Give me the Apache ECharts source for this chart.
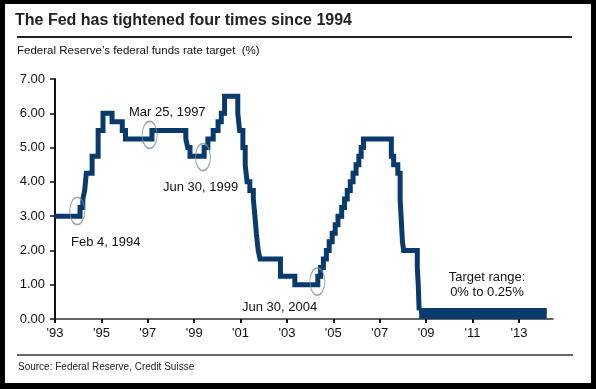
<!DOCTYPE html>
<html>
<head>
<meta charset="utf-8">
<script src="https://cdn.jsdelivr.net/npm/echarts@6/dist/echarts.min.js"></script>
<style>
html,body{margin:0;padding:0;background:#000;}
#c{width:596px;height:389px;}
</style>
</head>
<body>
<div id="c"></div>
<script>
// Fed funds target rate: change dates (decimal year) and new target (%)
var changeDates = [1993.0, 1994.08, 1994.2, 1994.28, 1994.35, 1994.6, 1994.86, 1995.07, 1995.46, 1995.9, 1996.04,
  1997.18, 1998.64, 1998.72, 1998.82, 1999.43, 1999.59, 1999.82, 2000.03, 2000.17, 2000.31,
  2000.88, 2000.96, 2001.1, 2001.2, 2001.28, 2001.4, 2001.55, 2001.62, 2001.68, 2001.76, 2001.84,
  2002.72, 2003.34, 2004.33, 2004.45, 2004.57, 2004.7, 2004.82, 2004.95, 2005.08, 2005.2, 2005.36,
  2005.48, 2005.6, 2005.73, 2005.85, 2005.98, 2006.1, 2006.2, 2006.3,
  2007.5, 2007.6, 2007.78, 2007.88, 2007.92, 2007.98, 2008.03, 2008.62, 2008.66, 2008.7];
var rates = [3.00, 3.25, 3.50, 3.75, 4.25, 4.75, 5.50, 6.00, 5.75, 5.50, 5.25,
  5.50, 5.25, 5.00, 4.75, 5.00, 5.25, 5.50, 5.75, 6.00, 6.50,
  6.00, 5.50, 5.00, 4.50, 4.00, 3.75, 3.50, 3.00, 2.50, 2.00, 1.75,
  1.25, 1.00, 1.25, 1.50, 1.75, 2.00, 2.25, 2.50, 2.75, 3.00, 3.25,
  3.50, 3.75, 4.00, 4.25, 4.50, 4.75, 5.00, 5.25,
  4.75, 4.50, 4.25, 3.50, 3.00, 2.25, 2.00, 1.50, 1.00, 0.25];
// Target range period (0% to 0.25%)
var rangeDates = [2008.7, 2014.2];
var rangeTop = [0.25, 0.25];
// Circled tightening dates (centre of ellipse)
var circleDates = [1993.96, 1997.08, 1999.38, 2004.31];
var circleRates = [3.15, 5.37, 4.72, 1.09];
var xTickYears = [1993, 1995, 1997, 1999, 2001, 2003, 2005, 2007, 2009, 2011, 2013];
var yTicks = [0, 1, 2, 3, 4, 5, 6, 7];

var base = 1993;
var FONT = '"Liberation Sans", Arial, sans-serif';
var mainData = changeDates.map(function (d, i) { return [d - base, rates[i]]; });
var rangeData = rangeDates.map(function (d, i) { return [d - base, rangeTop[i]]; });
var circleData = circleDates.map(function (d, i) { return [d - base, circleRates[i]]; });
var xTicks = xTickYears.map(function (y) { return y - base; });
var lineColor = '#083b6b';

var chart = echarts.init(document.getElementById('c'), null, {renderer: 'canvas'});
chart.setOption({
  backgroundColor: '#000',
  animation: false,
  grid: {left: 55, right: 43, top: 79, bottom: 70},
  xAxis: {
    type: 'value', min: 0, max: 21.47, interval: 2,
    splitLine: {show: false},
    axisLine: {lineStyle: {color: '#333', width: 1.5}},
    axisTick: {show: true, length: 4, customValues: xTicks, lineStyle: {color: '#111', width: 2}},
    axisLabel: {customValues: xTicks, margin: 8, color: '#111', fontSize: 13, fontFamily: FONT,
      formatter: function (v) { var y = Math.round(v + base) % 100; return "'" + (y < 10 ? '0' + y : y); }}
  },
  yAxis: {
    type: 'value', min: 0, max: 7, interval: 1,
    splitLine: {show: false},
    axisLine: {show: true, lineStyle: {color: '#111', width: 2}},
    axisTick: {show: true, length: 5, lineStyle: {color: '#111', width: 1.5}},
    axisLabel: {margin: 10, color: '#111', fontSize: 13, fontFamily: FONT,
      formatter: function (v) { return v.toFixed(2); }}
  },
  graphic: [
    {type: 'rect', z: -10, shape: {x: 5, y: 4, width: 586, height: 379}, style: {fill: '#fff'}},
    {type: 'text', left: 15, top: 13, style: {text: 'The Fed has tightened four times since 1994', font: 'bold 16px ' + FONT, fill: '#222'}},
    {type: 'line', shape: {x1: 17, y1: 37, x2: 572, y2: 37}, style: {stroke: '#222', lineWidth: 2}},
    {type: 'text', left: 17, top: 45, style: {text: 'Federal Reserve\u2019s federal funds rate target  (%)', font: '11.5px ' + FONT, fill: '#111'}},
    {type: 'line', shape: {x1: 17, y1: 355, x2: 573, y2: 355}, style: {stroke: '#333', lineWidth: 1.5}},
    {type: 'text', left: 18, top: 362, style: {text: 'Source: Federal Reserve, Credit Suisse', font: '10px ' + FONT, fill: '#222'}},
    {type: 'text', left: 71, top: 236, style: {text: 'Feb 4, 1994', font: '13px ' + FONT, fill: '#111'}},
    {type: 'text', left: 129, top: 106, style: {text: 'Mar 25, 1997', font: '13px ' + FONT, fill: '#111'}},
    {type: 'text', left: 163, top: 181, style: {text: 'Jun 30, 1999', font: '13px ' + FONT, fill: '#111'}},
    {type: 'text', left: 242, top: 301, style: {text: 'Jun 30, 2004', font: '13px ' + FONT, fill: '#111'}},
    {type: 'text', x: 487, y: 277, style: {text: 'Target range:', font: '13px ' + FONT, fill: '#111', align: 'center', verticalAlign: 'middle'}},
    {type: 'text', x: 487, y: 292, style: {text: '0% to 0.25%', font: '13px ' + FONT, fill: '#111', align: 'center', verticalAlign: 'middle'}}
  ],
  series: [
    {type: 'line', step: 'end', data: mainData, symbol: 'none', z: 3,
      lineStyle: {color: lineColor, width: 5, join: 'miter'}},
    {type: 'line', data: rangeData, symbol: 'none', z: 3,
      lineStyle: {color: lineColor, width: 5},
      areaStyle: {color: lineColor, opacity: 1}},
    {type: 'scatter', data: circleData, symbol: 'circle', symbolSize: [15, 27], z: 4,
      itemStyle: {color: 'rgba(0,0,0,0)', borderColor: '#7d8ca5', borderWidth: 1.3}}
  ]
});
</script>
</body>
</html>
